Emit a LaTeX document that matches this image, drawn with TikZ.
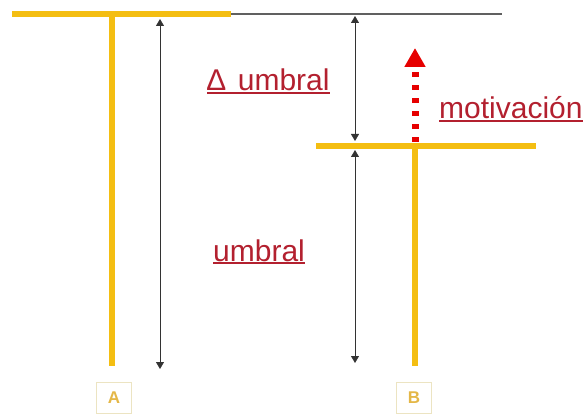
\documentclass[tikz,border=0pt]{standalone}
\usepackage{fontspec}
\setmainfont{Liberation Sans}
\usepackage{xcolor}
\usetikzlibrary{arrows.meta,positioning}
\definecolor{gold}{HTML}{F4BE12}
\definecolor{wine}{HTML}{B3202F}
\definecolor{levelgray}{HTML}{606060}
\definecolor{tagedge}{HTML}{ECE4C2}
\definecolor{taggold}{HTML}{E4B747}
\definecolor{pushred}{HTML}{E60000}
\newcommand{\ulword}[1]{\setbox0=\hbox{#1}\rlap{\raisebox{-3pt}{\rule{\wd0}{2pt}}}\box0}
\tikzset{
  bar/.style={
    draw=gold,
    line width=5.5pt
  },
  level/.style={
    draw=levelgray,
    line width=1.1pt
  },
  measure/.style={
    {Triangle[length=7pt,width=8pt]}-{Triangle[length=7pt,width=8pt]},
    draw=black!80,
    line width=0.8pt
  },
  push/.style={
    -{Triangle[length=19pt,width=20pt]},
    draw=pushred,
    line width=7pt,
    dash pattern=on 5pt off 8pt
  },
  redtext/.style={
    text=wine,
    inner sep=0pt,
    anchor=base west,
    font=\fontsize{30}{32}\selectfont
  },
  tag/.style={
    rectangle,
    draw=tagedge,
    line width=1pt,
    text=taggold,
    minimum width=35pt,
    minimum height=31pt,
    font=\fontsize{17}{17}\selectfont\bfseries
  }
}

\begin{document}
\begin{tikzpicture}[x=1pt,y=-1pt]
\useasboundingbox (0,0) rectangle (588,414);

% threshold A
\coordinate (topL) at (12,14);
\coordinate (topR) at (231,14);
\coordinate (lineEnd) at (502,14);
\coordinate (stemAtop) at (112,14);
\coordinate (stemAbot) at (112,366);

% threshold B
\coordinate (barBL) at (316,146);
\coordinate (barBR) at (536,146);
\coordinate (stemBtop) at (415,146);
\coordinate (stemBbot) at (415,366);

% measures
\coordinate (gapAtop) at (160,19);
\coordinate (gapAbot) at (160,369);
\coordinate (deltaTop) at (355,16);
\coordinate (deltaBot) at (355,141);
\coordinate (gapBtop) at (355,150);
\coordinate (gapBbot) at (355,363);

% motivation arrow
\coordinate (pushStart) at (415,142);
\coordinate (pushTip) at (415,48);

\node[redtext] (deltalabel) at (207,91) {\ulword{∆\hspace{4pt} umbral}};
\node[redtext] (motivlabel) at (439,119) {\ulword{motivación}};
\node[redtext] (umbrallabel) at (213,261) {\ulword{umbral}};

\node[tag] (tagA) at (114,398) {A};
\node[tag] (tagB) at (414,398) {B};

\draw[level] (topR) -- (lineEnd);
\draw[bar] (stemAtop) -- (stemAbot);
\draw[bar] (topL) -- (topR);
\draw[bar] (stemBtop) -- (stemBbot);
\draw[bar] (barBL) -- (barBR);

\draw[measure] (gapAtop) -- (gapAbot);
\draw[measure] (deltaTop) -- (deltaBot);
\draw[measure] (gapBtop) -- (gapBbot);

\draw[push] (pushStart) -- (pushTip);

\end{tikzpicture}
\end{document}
